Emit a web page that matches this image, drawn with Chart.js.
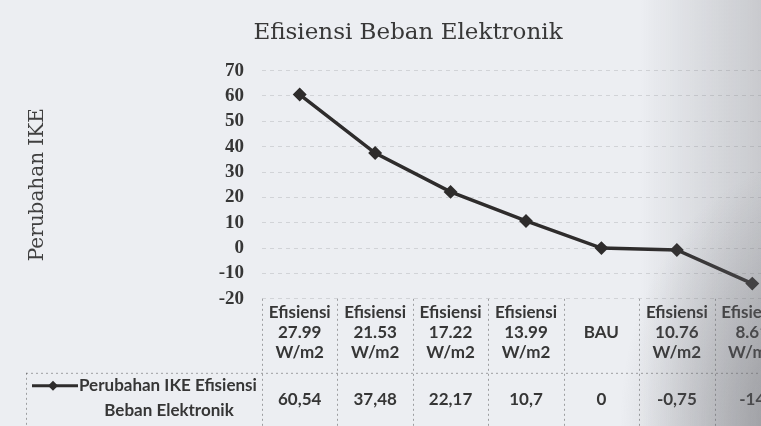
<!DOCTYPE html>
<html>
<head>
<meta charset="utf-8">
<script src="https://cdn.jsdelivr.net/npm/chart.js@4.4.1/dist/chart.umd.min.js"></script>
<style>
  html, body { margin: 0; padding: 0; overflow: hidden; background: #eceef2; }
  #wrap { position: relative; width: 800px; height: 426px; }
  #shade { position: absolute; left: 0; top: 0; width: 761px; height: 426px; pointer-events: none;
    background:
      radial-gradient(ellipse 180px 260px at 800px 426px, rgba(90,90,95,0.45), rgba(90,90,95,0) 100%),
      linear-gradient(to right, rgba(110,110,115,0) 640px, rgba(110,110,115,0.28) 761px); }
</style>
</head>
<body>
<div id="wrap">
  <canvas id="myChart" width="800" height="426"></canvas>
  <div id="shade"></div>
</div>
<script>
// data
const kategori = [
  ['Efisiensi', '27.99', 'W/m2'],
  ['Efisiensi', '21.53', 'W/m2'],
  ['Efisiensi', '17.22', 'W/m2'],
  ['Efisiensi', '13.99', 'W/m2'],
  ['', 'BAU', ''],
  ['Efisiensi', '10.76', 'W/m2'],
  ['Efisiensi', '8.61', 'W/m2']
];
const nilaiIKE = [60.54, 37.48, 22.17, 10.7, 0, -0.75, -14];
const namaSeri = ['Perubahan IKE Efisiensi', 'Beban Elektronik'];
const sumbuY = [-20, 70, 10]; // min, max, step

const warnaGaris = '#2e2c2c';
const warnaTeks = '#363636';

// draws the excel style data table under the plot
const tabelData = {
  id: 'tabelData',
  afterDraw(chart) {
    const {ctx, chartArea, scales: {x}} = chart;
    const n = chart.data.labels.length;
    const lebar = (chartArea.right - chartArea.left) / n;
    const atas = chartArea.bottom;
    const garisTengah = atas + 74;
    ctx.save();
    ctx.strokeStyle = 'rgba(60,60,60,0.45)';
    ctx.lineWidth = 1;
    ctx.setLineDash([2, 3]);
    for (let i = 0; i <= n; i++) {
      const xx = Math.round(chartArea.left + i * lebar) + 0.5;
      ctx.beginPath();
      ctx.moveTo(xx, atas);
      ctx.lineTo(xx, chart.height);
      ctx.stroke();
    }
    ctx.beginPath();
    ctx.moveTo(26, garisTengah + 0.5);
    ctx.lineTo(chart.width, garisTengah + 0.5);
    ctx.stroke();
    ctx.beginPath();
    ctx.moveTo(26.5, garisTengah);
    ctx.lineTo(26.5, chart.height);
    ctx.stroke();
    ctx.setLineDash([]);

    // value row
    ctx.fillStyle = warnaTeks;
    ctx.font = 'bold 17px Lato';
    ctx.textAlign = 'center';
    ctx.textBaseline = 'middle';
    const data = chart.data.datasets[0].data;
    data.forEach((v, i) => {
      ctx.fillText(String(v).replace('.', ','), x.getPixelForValue(i), garisTengah + 27);
    });

    // legend key
    const ly = garisTengah + 13;
    ctx.strokeStyle = warnaGaris;
    ctx.lineWidth = 3;
    ctx.beginPath();
    ctx.moveTo(32, ly);
    ctx.lineTo(78, ly);
    ctx.stroke();
    ctx.fillStyle = warnaGaris;
    ctx.beginPath();
    ctx.moveTo(53, ly - 5);
    ctx.lineTo(58, ly);
    ctx.lineTo(53, ly + 5);
    ctx.lineTo(48, ly);
    ctx.closePath();
    ctx.fill();
    ctx.fillStyle = warnaTeks;
    ctx.font = 'bold 17px Lato';
    ctx.textAlign = 'left';
    ctx.fillText(namaSeri[0], 79, ly);
    ctx.textAlign = 'center';
    ctx.fillText(namaSeri[1], 169, ly + 25);
    ctx.restore();
  }
};

const ctx = document.getElementById('myChart').getContext('2d');
const myChart = new Chart(ctx, {
  type: 'line',
  data: {
    labels: kategori,
    datasets: [{
      label: namaSeri.join(' '),
      data: nilaiIKE,
      borderColor: warnaGaris,
      backgroundColor: warnaGaris,
      borderWidth: 3.5,
      pointStyle: 'rectRot',
      pointRadius: 4.5,
      tension: 0
    }]
  },
  options: {
    responsive: false,
    animation: false,
    devicePixelRatio: 1,
    layout: { padding: { left: 26, right: 10, bottom: 67, top: 0 } },
    plugins: {
      legend: { display: false },
      tooltip: { enabled: false },
      title: {
        display: true,
        text: 'Efisiensi Beban Elektronik',
        color: '#383838',
        font: { family: 'DejaVu Serif', size: 23, weight: 'normal' },
        padding: { top: 19, bottom: 24 }
      }
    },
    scales: {
      x: {
        offset: true,
        grid: { display: false },
        border: { display: false },
        ticks: {
          color: warnaTeks,
          font: { family: 'Lato', size: 17, weight: 'bold', lineHeight: 1.18 },
          padding: -4,
          maxRotation: 0,
          autoSkip: false
        }
      },
      y: {
        min: sumbuY[0],
        max: sumbuY[1],
        afterFit(s) { s.width = 236; },
        grid: { color: 'rgba(60,60,60,0.15)', drawTicks: false },
        border: { display: false, dash: [4, 4] },
        ticks: {
          stepSize: sumbuY[2],
          autoSkip: false,
          color: warnaTeks,
          font: { family: 'Liberation Serif', size: 19, weight: 'bold', lineHeight: 1 },
          padding: 18
        },
        title: {
          display: true,
          text: 'Perubahan IKE',
          color: '#404040',
          font: { family: 'DejaVu Serif', size: 20 },
          padding: { top: 0, bottom: 0 }
        }
      }
    }
  },
  plugins: [tabelData]
});
</script>
</body>
</html>
